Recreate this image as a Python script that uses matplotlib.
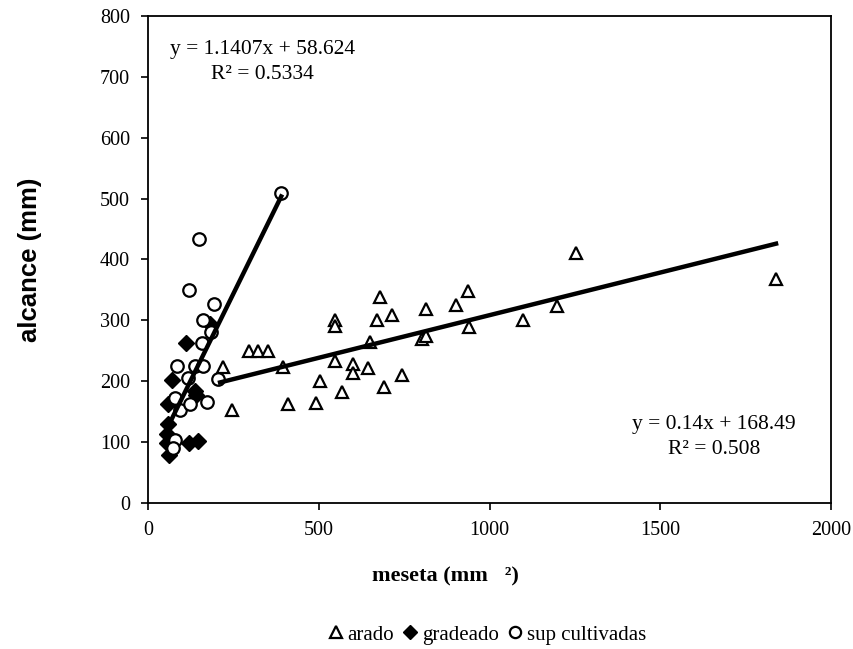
import numpy as np
import matplotlib
matplotlib.use("Agg")
import matplotlib.pyplot as plt

# arado (triangles)
arado_x = [1253, 679, 936, 714, 672, 813, 901, 548, 548, 297, 323, 350, 221, 394,
           245, 409, 491, 504, 567, 548, 601, 601, 643, 650, 690, 743, 801, 813,
           941, 1099, 1199, 1839]
arado_y = [410, 338, 349, 309, 300, 319, 326, 301, 291, 250, 250, 250, 223, 223,
           152, 162, 165, 200, 182, 234, 229, 213, 221, 264, 191, 211, 269, 275,
           289, 300, 324, 368]

# gradeado (filled diamonds)
grad_x = [110, 69, 60, 138, 140, 58, 55, 55, 62, 121, 147, 181]
grad_y = [262, 202, 162, 184, 177, 130, 114, 98, 79, 99, 102, 294]

# sup cultivadas (open circles)
sup_x = [150, 121, 193, 162, 184, 157, 84, 138, 160, 118, 205, 79, 94, 123, 172,
         79, 74, 390]
sup_y = [434, 350, 327, 300, 281, 262, 225, 225, 225, 205, 203, 172, 153, 162, 166,
         103, 90, 510]

# trendline coefficients as printed on the chart
sup_fit = (1.1407, 58.624, 0.5334)
arado_fit = (0.14, 168.49, 0.508)

SERIF = "Liberation Serif"
SANS = "Liberation Sans"

fig = plt.figure(figsize=(8.54, 6.49), dpi=100)
ax = fig.add_axes([0.1733, 0.2250, 0.7998, 0.7504])

ax.plot(arado_x, arado_y, ls="none", marker="^", ms=9, mfc="white", mec="black",
        mew=1.6, label="arado", zorder=3)
ax.plot(grad_x, grad_y, ls="none", marker="D", ms=8, mfc="black", mec="black",
        label="gradeado", zorder=3)
ax.plot(sup_x, sup_y, ls="none", marker="o", ms=9, mfc="white", mec="black",
        mew=1.6, label="sup cultivadas", zorder=3)

# trendlines over each series' x range
xs = np.array([min(sup_x) - 10, max(sup_x)])
ax.plot(xs, sup_fit[0] * xs + sup_fit[1], color="black", lw=3.2, zorder=4)
xa = np.array([min(arado_x) - 10, max(arado_x)])
ax.plot(xa, arado_fit[0] * xa + arado_fit[1], color="black", lw=3.2, zorder=4)

ax.text(0.168, 0.906, f"y = {sup_fit[0]}x + {sup_fit[1]}\nR² = {sup_fit[2]}",
        transform=ax.transAxes, ha="center", va="center", fontsize=15.5,
        family=SERIF, linespacing=1.45)
ax.text(0.829, 0.136, f"y = {arado_fit[0]}x + {arado_fit[1]}\nR² = {arado_fit[2]}",
        transform=ax.transAxes, ha="center", va="center", fontsize=15.5,
        family=SERIF, linespacing=1.45)

ax.set_xlim(0, 2000)
ax.set_ylim(0, 800)
ax.set_xticks(np.arange(0, 2001, 500))
ax.set_yticks(np.arange(0, 801, 100))
ax.tick_params(direction="out", length=5, width=1.2, pad=8, labelsize=14.5)
for lab in ax.get_xticklabels() + ax.get_yticklabels():
    lab.set_family(SERIF)
for sp in ax.spines.values():
    sp.set_linewidth(1.3)

fig.text(0.522, 0.111, "meseta (mm   ²)", ha="center", va="center",
         fontsize=16, fontweight="bold", family=SERIF)
fig.text(0.035, 0.599, "alcance (mm)", ha="center", va="center", rotation=90,
         fontsize=18.5, fontweight="bold", family=SANS)

fig.legend(loc="center", bbox_to_anchor=(0.571, 0.022), ncol=3, frameon=False,
           prop={"family": SERIF, "size": 15}, handlelength=0.6,
           handletextpad=0.25, columnspacing=0.5, markerscale=0.9)

fig.savefig("out.png", dpi=100)
